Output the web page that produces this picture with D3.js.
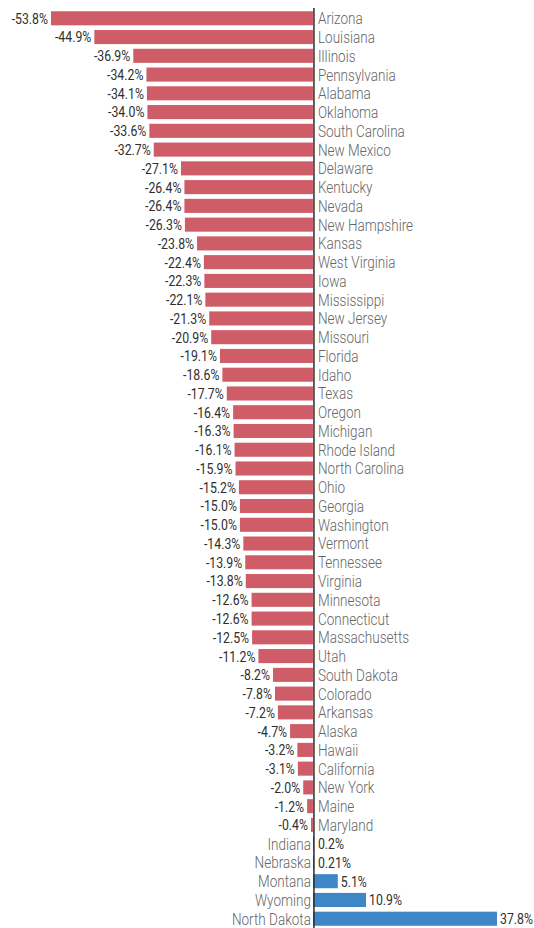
<!DOCTYPE html>
<html>
<head>
<meta charset="utf-8">
<script src="https://cdn.jsdelivr.net/npm/d3@7"></script>
<style>
  body { margin: 0; background: #fff; }
  svg text { font-family: Roboto, "Liberation Sans", sans-serif; }
</style>
</head>
<body>
<svg id="chart"></svg>
<script>
var states = ["Arizona","Louisiana","Illinois","Pennsylvania","Alabama","Oklahoma","South Carolina","New Mexico",
    "Delaware","Kentucky","Nevada","New Hampshire","Kansas","West Virginia","Iowa","Mississippi","New Jersey",
    "Missouri","Florida","Idaho","Texas","Oregon","Michigan","Rhode Island","North Carolina","Ohio","Georgia",
    "Washington","Vermont","Tennessee","Virginia","Minnesota","Connecticut","Massachusetts","Utah","South Dakota",
    "Colorado","Arkansas","Alaska","Hawaii","California","New York","Maine","Maryland","Indiana","Nebraska",
    "Montana","Wyoming","North Dakota"];
var changes = [-53.8,-44.9,-36.9,-34.2,-34.1,-34.0,-33.6,-32.7,
    -27.1,-26.4,-26.4,-26.3,-23.8,-22.4,-22.3,-22.1,-21.3,
    -20.9,-19.1,-18.6,-17.7,-16.4,-16.3,-16.1,-15.9,-15.2,-15.0,
    -15.0,-14.3,-13.9,-13.8,-12.6,-12.6,-12.5,-11.2,-8.2,
    -7.8,-7.2,-4.7,-3.2,-3.1,-2.0,-1.2,-0.4,0.2,0.21,
    5.1,10.9,37.8];

var width = 534, height = 928;
var squeeze = 0.82; // condensed look
var data = states.map((s, i) => ({state: s, value: changes[i]}));

var svg = d3.select('#chart')
    .attr('width', width)
    .attr('height', height);

var x = d3.scaleLinear()
    .domain([d3.min(changes), d3.max(changes)])
    .range([51, 497]);
var y = d3.scaleBand()
    .domain(states)
    .range([9, 928])
    .paddingInner(0.25)
    .paddingOuter(0.12);

function fmt(v) {
    return (Math.round(v * 10) === v * 10 ? v.toFixed(1) : String(v)) + '%';
}

svg.selectAll('.bar')
    .data(data)
    .enter()
    .append('rect')
        .classed('bar', true)
        .attr('x', d => x(Math.min(0, d.value)))
        .attr('y', d => y(d.state))
        .attr('width', d => Math.abs(x(d.value) - x(0)))
        .attr('height', y.bandwidth())
        .attr('fill', d => d.value < 0 ? '#cf5d67' : '#3e86c6');

// zero line
svg.append('line')
    .attr('x1', x(0) + 1).attr('x2', x(0) + 1)
    .attr('y1', 8).attr('y2', height)
    .attr('stroke', '#2b2b2b')
    .attr('stroke-width', 1.5);

var mid = d => y(d.state) + y.bandwidth() / 2;

// value labels
svg.selectAll('.val')
    .data(data)
    .enter()
    .append('text')
        .classed('val', true)
        .attr('transform', d => {
            var tx = d.value < 0 ? x(d.value) - 3 : Math.max(x(d.value), x(0) + 2) + 3;
            return 'translate(' + tx + ',' + mid(d) + ') scale(' + squeeze + ',1)';
        })
        .attr('dy', '0.36em')
        .attr('font-size', 15)
        .attr('fill', '#2e2e2e')
        .style('text-anchor', d => d.value < 0 ? 'end' : 'start')
        .text(d => fmt(d.value));

// state labels
svg.selectAll('.state')
    .data(data)
    .enter()
    .append('text')
        .classed('state', true)
        .attr('transform', d => {
            var tx = d.value < 0 ? x(0) + 5 : x(0) - 2;
            return 'translate(' + tx + ',' + mid(d) + ') scale(' + squeeze + ',1)';
        })
        .attr('dy', '0.36em')
        .attr('font-size', 16.5)
        .attr('font-weight', 300)
        .attr('fill', '#666')
        .style('text-anchor', d => d.value < 0 ? 'start' : 'end')
        .text(d => d.state);
</script>
</body>
</html>
